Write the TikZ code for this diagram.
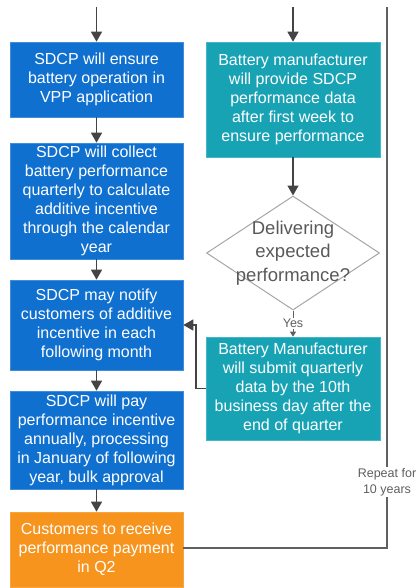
\documentclass[tikz,border=0pt]{standalone}
\usepackage{fontspec}
\setmainfont{Liberation Sans}
\usetikzlibrary{arrows.meta,shapes.geometric,calc}

\definecolor{sdcpblue}{RGB}{16,112,207}
\definecolor{mfrteal}{RGB}{24,163,181}
\definecolor{payorange}{RGB}{247,148,29}
\definecolor{flowgray}{RGB}{68,68,68}
\definecolor{loopgray}{RGB}{96,96,96}
\definecolor{diagray}{RGB}{166,166,166}
\definecolor{diatext}{RGB}{89,89,89}

\tikzset{
  boxbase/.style={rectangle, inner sep=0pt, text=white, align=center,
    font=\fontsize{16}{19}\selectfont, minimum width=173pt},
  bluebox/.style={boxbase, fill=sdcpblue, draw=sdcpblue!80!white, line width=0.6pt},
  tealbox/.style={boxbase, fill=mfrteal, draw=mfrteal!80!white, line width=0.6pt, minimum width=174pt},
  orangebox/.style={boxbase, fill=payorange, draw=payorange!85!white, line width=0.6pt},
  flow/.style={draw=flowgray, line width=1.5pt,
    -{Triangle[width=11pt,length=10pt]}, color=flowgray},
  smallflow/.style={draw=loopgray, line width=1pt,
    -{Triangle[width=6pt,length=5pt]}, color=loopgray},
  loop/.style={draw=loopgray, line width=1.5pt},
  smalllabel/.style={fill=white, inner sep=1pt, text=loopgray, align=center,
    font=\fontsize{12.5}{16}\selectfont},
}

\begin{document}
\begin{tikzpicture}[x=1pt,y=-1pt]
\useasboundingbox (0,0) rectangle (418,588);

% left column: SDCP steps
\node[bluebox, minimum height=75pt] (b1) at (96.5,79.5)
  {SDCP will ensure\\battery operation in\\VPP application};
\node[bluebox, minimum height=116pt] (b2) at (96.5,201)
  {SDCP will collect\\battery performance\\quarterly to calculate\\additive incentive\\through the calendar\\year};
\node[bluebox, minimum height=90pt] (b3) at (96.5,325)
  {SDCP may notify\\customers of additive\\incentive in each\\following month};
\node[bluebox, minimum height=98pt] (b4) at (96.5,440)
  {SDCP will pay\\performance incentive\\annually, processing\\in January of following\\year, bulk approval};
\node[orangebox, minimum height=75pt] (b5) at (96.5,549.5)
  {Customers to receive\\performance payment\\in Q2};

% right column: manufacturer steps
\node[tealbox, minimum height=115pt] (r1) at (293,99.5)
  {Battery manufacturer\\will provide SDCP\\performance data\\after first week to\\ensure performance};
\node[diamond, draw=diagray, line width=1pt, minimum width=173pt,
  minimum height=114pt, inner sep=0pt] (dia) at (293,253) {};
\node[align=center, text=diatext, font=\fontsize{18.5}{23.5}\selectfont]
  (diatxt) at (dia.center) {Delivering\\expected\\performance?};
\node[tealbox, minimum height=103pt] (r2) at (293,388.5)
  {Battery Manufacturer\\will submit quarterly\\data by the 10th\\business day after the\\end of quarter};

% entry points and loop corners
\coordinate (inL) at (96.5,7);
\coordinate (inR) at (293,7);
\coordinate (loopTop) at (387,7);
\coordinate (loopBot) at (387,548);
\coordinate (bend) at (196,388.5);

% connectors
\draw[flow] (inL) -- (b1.north);
\draw[flow] (inR) -- (r1.north);
\draw[flow] (b1) -- (b2);
\draw[flow] (b2) -- (b3);
\draw[flow] (b3) -- (b4);
\draw[flow] (b4) -- (b5);
\draw[flow] (r1) -- (dia.north);
\draw[smallflow] (dia.south) -- node[smalllabel, pos=0.5] (yes) {Yes} (r2.north);
\draw[flow] (r2.west) -- (bend) |- (b3.east);

% yearly repeat loop
\draw[loop] (b5.east |- loopBot) -- (loopBot) -- (loopTop);
\node[smalllabel] (rep) at (387,482) {Repeat for\\10 years};
\end{tikzpicture}
\end{document}
